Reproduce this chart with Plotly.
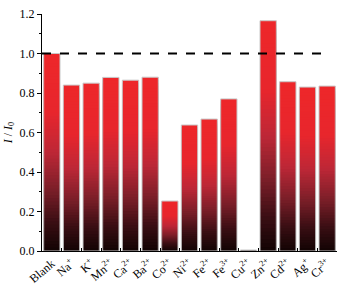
import numpy as np
import plotly.graph_objects as go

categories = ["Blank", "Na<sup>+</sup>", "K<sup>+</sup>", "Mn<sup>2+</sup>", "Ca<sup>2+</sup>",
              "Ba<sup>2+</sup>", "Co<sup>2+</sup>", "Ni<sup>2+</sup>", "Fe<sup>2+</sup>",
              "Fe<sup>3+</sup>", "Cu<sup>2+</sup>", "Zn<sup>2+</sup>", "Cd<sup>2+</sup>",
              "Ag<sup>+</sup>", "Cr<sup>3+</sup>"]
values = [1.0, 0.84, 0.85, 0.879, 0.865, 0.88, 0.253, 0.638, 0.668, 0.77, 0.005,
          1.166, 0.857, 0.83, 0.835]
reference_level = 1.0
y_ticks = [0.0, 0.2, 0.4, 0.6, 0.8, 1.0, 1.2]

vals = np.array(values)

# gradient stops: t = fraction from top of bar (0) to bottom (1)
stops_t = [0.0, 0.3, 0.5, 0.7, 0.85, 1.0]
stops_c = [(238, 40, 42), (232, 38, 45), (190, 40, 55), (120, 30, 40), (60, 15, 20), (18, 4, 4)]

def color_at(t):
    r = np.interp(t, stops_t, [c[0] for c in stops_c])
    g = np.interp(t, stops_t, [c[1] for c in stops_c])
    b = np.interp(t, stops_t, [c[2] for c in stops_c])
    return f"rgb({int(r)},{int(g)},{int(b)})"

N = 60
fig = go.Figure()
# nested bars: each layer from 0 up to a fraction of the value, smaller ones drawn on top
for k in range(N):
    frac = (N - k) / N
    t = (k + 0.5) / N
    fig.add_trace(go.Bar(
        x=categories, y=vals * frac,
        marker=dict(color=color_at(t), line=dict(width=0)),
        showlegend=False, hoverinfo="skip",
    ))
# outline
fig.add_trace(go.Bar(
    x=categories, y=vals,
    marker=dict(color="rgba(0,0,0,0)", line=dict(width=1, color="rgb(200,200,200)")),
    showlegend=False,
))

fig.add_shape(type="line", xref="paper", yref="y", x0=0, x1=0.97,
              y0=reference_level, y1=reference_level,
              line=dict(color="black", width=2, dash="dash"))

font_family = "Liberation Serif"
fig.update_layout(
    barmode="overlay",
    bargap=0.17,
    width=343, height=285,
    margin=dict(l=42, r=6, t=14, b=34, autoexpand=False),
    plot_bgcolor="white", paper_bgcolor="white",
    font=dict(family=font_family, size=12, color="black"),
    xaxis=dict(
        type="category", showline=True, linecolor="black", linewidth=1,
        ticks="inside", ticklen=3, tickson="boundaries", tickcolor="black",
        tickangle=-40, tickfont=dict(size=12),
        automargin=False, showgrid=False,
    ),
    yaxis=dict(
        range=[0, 1.2], tickvals=y_ticks, tickformat=".1f",
        showline=True, linecolor="black", linewidth=1,
        ticks="outside", ticklen=4, tickcolor="black",
        minor=dict(dtick=0.1, ticks="outside", ticklen=2, tickcolor="black"),
        showgrid=False, zeroline=False, tickfont=dict(size=12), automargin=False,
        title=dict(text="<i>I</i> / <i>I</i><sub>0</sub>", standoff=4, font=dict(size=12)),
    ),
)

fig.write_html("out.html", config={"displayModeBar": False},
               post_script="document.body.style.margin='0';")
